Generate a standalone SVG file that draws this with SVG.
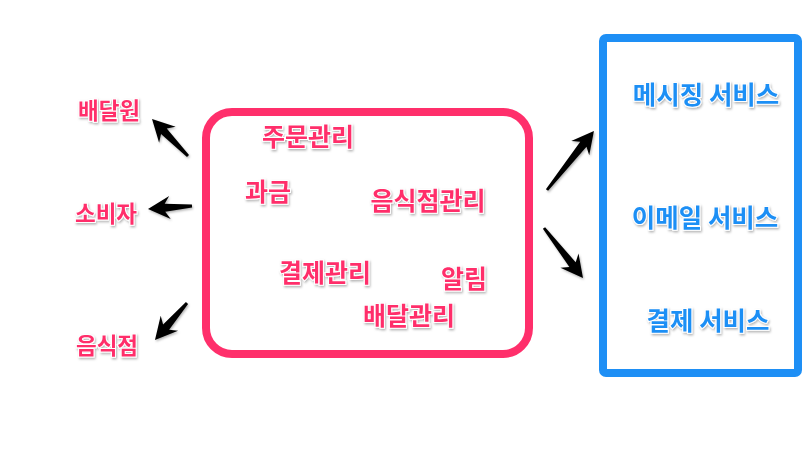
<svg xmlns="http://www.w3.org/2000/svg" width="803" height="452" viewBox="0 0 803 452">
  <style>
    .t { font-family: "Noto Sans CJK KR", "Noto Sans", sans-serif; font-weight: 700; text-anchor: middle; dominant-baseline: central; stroke: #ffffff; stroke-width: 2; paint-order: stroke; filter: url(#sh); }
    .pk { fill: #ff2f6b; }
    .bl { fill: #1e8ff5; }
    .left { font-size: 22.5px; }
    .in { font-size: 25px; }
    .svc { font-size: 25.5px; }
    .arr { fill: #000; stroke: none; }
  </style>
  <defs>
    <filter id="sh" x="-20%" y="-20%" width="140%" height="140%">
      <feDropShadow dx="1" dy="1.5" stdDeviation="1" flood-color="#000" flood-opacity="0.3"/>
    </filter>
    <filter id="shu" filterUnits="userSpaceOnUse" x="0" y="0" width="803" height="452">
      <feDropShadow dx="1" dy="1.5" stdDeviation="1" flood-color="#000" flood-opacity="0.3"/>
    </filter>
  </defs>
  <rect width="803" height="452" fill="#ffffff"/>

  <g id="core">
    <rect x="206" y="112" width="323" height="242" rx="26" ry="26" fill="none" stroke="#ff2f6b" stroke-width="8"/>
    <text class="t pk in" x="308" y="135">주문관리</text>
    <text class="t pk in" x="268" y="190">과금</text>
    <text class="t pk in" x="428" y="199">음식점관리</text>
    <text class="t pk in" x="325" y="271">결제관리</text>
    <text class="t pk in" x="464" y="277">알림</text>
    <text class="t pk in" x="409" y="314">배달관리</text>
  </g>

  <g id="services">
    <rect x="603" y="38" width="195" height="335" rx="3" ry="3" fill="none" stroke="#1e8ff5" stroke-width="8"/>
    <text class="t bl svc" x="706" y="92">메시징 서비스</text>
    <text class="t bl svc" x="705" y="215">이메일 서비스</text>
    <text class="t bl svc" x="708" y="318">결제 서비스</text>
  </g>

  <g id="deliverer"><text class="t pk left" x="109" y="109">배달원</text></g>
  <g id="consumer"><text class="t pk left" x="106" y="212">소비자</text></g>
  <g id="restaurant"><text class="t pk left" x="107" y="344">음식점</text></g>

  <g id="connectors" filter="url(#shu)">
    <path class="arr" transform="translate(188 156) rotate(-134.2)" d="M0,-1.4 L34.6,-4 L29.6,-11.5 L51.6,0 L29.6,11.5 L34.6,4 L0,1.4 Z"/>
    <path class="arr" transform="translate(192 206) rotate(176.1)" d="M0,-1.4 L27.1,-4 L22.1,-11.5 L44.1,0 L22.1,11.5 L27.1,4 L0,1.4 Z"/>
    <path class="arr" transform="translate(187 303) rotate(130.9)" d="M0,-1.4 L31.9,-4 L26.9,-11.5 L48.9,0 L26.9,11.5 L31.9,4 L0,1.4 Z"/>
    <path class="arr" transform="translate(547 190) rotate(-51.5)" d="M0,-1.4 L58.4,-4 L53.4,-11.5 L75.4,0 L53.4,11.5 L58.4,4 L0,1.4 Z"/>
    <path class="arr" transform="translate(544 228) rotate(52.05)" d="M0,-1.4 L46.4,-4 L41.4,-11.5 L63.4,0 L41.4,11.5 L46.4,4 L0,1.4 Z"/>
  </g>
</svg>
